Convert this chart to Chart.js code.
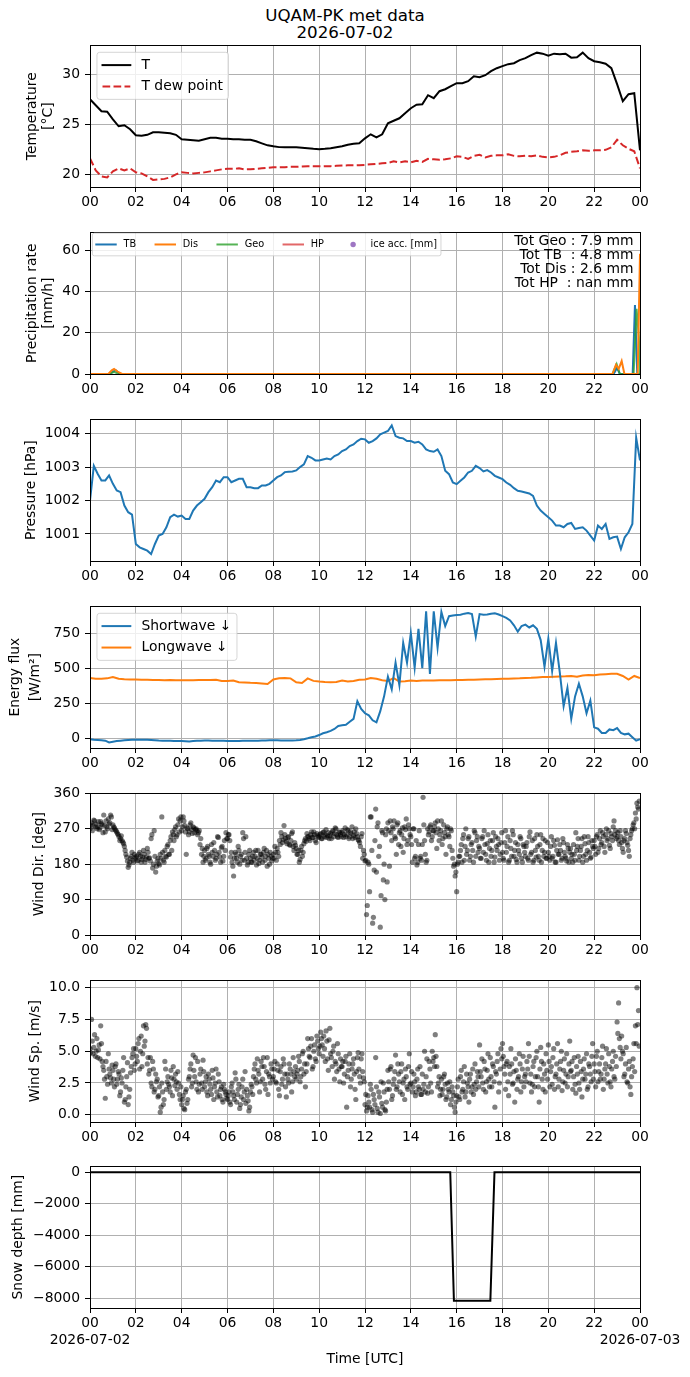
<!DOCTYPE html>
<html>
<head>
<meta charset="utf-8">
<script src="https://cdn.jsdelivr.net/npm/chart.js@4.4.1/dist/chart.umd.min.js"></script>
<style>
  body { margin: 0; background: #fff; width: 690px; height: 1377px; position: relative; overflow: hidden; font-family: "DejaVu Sans", sans-serif; }
  #title { position: absolute; left: 0; top: 7px; width: 690px; text-align: center; font-size: 16.7px; line-height: 17px; color: #000; }
  canvas { position: absolute; left: 0; }
</style>
</head>
<body>
<div id="title">UQAM-PK met data<br>2026-07-02</div>
<script>
// ---- data ----
const hourTicks = [0, 2, 4, 6, 8, 10, 12, 14, 16, 18, 20, 22, 24];
const dateLabels = ['2026-07-02', '2026-07-03'];

// temperature, every 15 min
const tempStepH = 0.25;
const airTemp = [
  27.5, 26.9, 26.3, 26.25,   25.5, 24.8, 24.9, 24.5,    23.9, 23.85, 23.95, 24.2,  24.2, 24.15, 24.1, 23.95,
  23.5, 23.45, 23.4, 23.35,  23.5, 23.65, 23.65, 23.55, 23.55, 23.5, 23.5, 23.45,  23.45, 23.3, 23.1, 22.9,
  22.8, 22.72, 22.7, 22.72,  22.7, 22.65, 22.6, 22.55,  22.52, 22.55, 22.6, 22.7,  22.8, 22.95, 23.05, 23.1,
  23.6, 24.0, 23.7, 24.0,    25.1, 25.35, 25.6, 26.1,   26.6, 26.95, 27.0, 27.9,   27.6, 28.3, 28.5, 28.8,
  29.1, 29.1, 29.3, 29.8,    29.7, 29.9, 30.3, 30.6,    30.8, 31.0, 31.1, 31.4,    31.6, 31.9, 32.15, 32.05,
  31.85, 32.05, 32.0, 32.05, 31.65, 31.7, 32.15, 31.6,  31.3, 31.2, 31.05, 30.6,   29.0, 27.3, 28.0, 28.1,
  22.4
];
const dewPoint = [
  21.6, 20.4, 19.8, 19.7,    20.3, 20.6, 20.4, 20.6,    20.2, 20.1, 19.8, 19.45,   19.5, 19.55, 19.7, 20.0,
  20.2, 20.15, 20.1, 20.15,  20.2, 20.3, 20.4, 20.5,    20.55, 20.55, 20.6, 20.5,  20.5, 20.55, 20.6, 20.65,
  20.7, 20.7, 20.72, 20.75,  20.75, 20.78, 20.8, 20.8,  20.8, 20.82, 20.82, 20.85, 20.88, 20.9, 20.9, 20.92,
  20.95, 21.0, 21.05, 21.1,  21.15, 21.3, 21.2, 21.3,   21.2, 21.35, 21.25, 21.55, 21.5, 21.45, 21.5, 21.6,
  21.8, 21.75, 21.55, 21.85, 21.95, 21.7, 21.85, 21.9,  21.9, 22.0, 21.85, 21.8,   21.85, 21.8, 21.9, 21.75,
  21.7, 21.75, 21.9, 22.15,  22.25, 22.3, 22.4, 22.35,  22.4, 22.4, 22.45, 22.7,   23.45, 22.9, 22.55, 22.3,
  20.6
];

// precipitation rate [mm/h]
const tbHours  = [0, 0.85, 1.0, 1.12, 1.3, 22.85, 23.0, 23.12, 23.68, 23.78, 23.88, 24];
const tbRate   = [0, 0, 1.2, 1.8, 0, 0, 3.0, 0, 0, 33.5, 0, 0];
const disHours = [0, 0.8, 0.95, 1.05, 1.2, 1.4, 22.8, 22.95, 23.07, 23.2, 23.32, 23.9, 24];
const disRate  = [0, 0, 1.8, 2.5, 1.2, 0, 0, 4.4, 2.5, 6.3, 0, 0, 58.5];
const geoHours = [0, 0.85, 1.05, 1.25, 22.8, 22.98, 23.12, 23.72, 23.85, 23.95, 24];
const geoRate  = [0, 0, 1.0, 0, 0, 4.8, 0, 0, 31.7, 18, 0];
const precipNote = ['Tot Geo : 7.9 mm', 'Tot TB  : 4.8 mm', 'Tot Dis : 2.6 mm', 'Tot HP  : nan mm'];

// pressure, every 10 min
const pressStepH = 1 / 6;
const pressure = [
  1002.0, 1003.04, 1002.8, 1002.6, 1002.6, 1002.75,
  1002.5, 1002.3, 1002.25, 1001.85, 1001.65, 1001.58,
  1000.7, 1000.6, 1000.55, 1000.5, 1000.4, 1000.7,
  1000.95, 1001.0, 1001.2, 1001.5, 1001.58, 1001.52,
  1001.55, 1001.45, 1001.45, 1001.7, 1001.85, 1001.95,
  1002.05, 1002.25, 1002.4, 1002.6, 1002.55, 1002.7,
  1002.7, 1002.55, 1002.6, 1002.65, 1002.65, 1002.4,
  1002.4, 1002.37, 1002.37, 1002.45, 1002.45, 1002.5,
  1002.6, 1002.7, 1002.75, 1002.85, 1002.86, 1002.87,
  1002.9, 1003.0, 1003.08, 1003.33, 1003.28, 1003.2,
  1003.2, 1003.23, 1003.26, 1003.23, 1003.33, 1003.38,
  1003.48, 1003.53, 1003.63, 1003.68, 1003.78, 1003.85,
  1003.83, 1003.73, 1003.78, 1003.86, 1003.98, 1004.03,
  1004.08, 1004.25, 1003.93, 1003.88, 1003.86, 1003.78,
  1003.78, 1003.73, 1003.76, 1003.68, 1003.53, 1003.48,
  1003.46, 1003.53, 1003.33, 1002.89, 1002.79, 1002.54,
  1002.49, 1002.59, 1002.69, 1002.84, 1002.89, 1003.04,
  1002.97, 1002.87, 1002.91, 1002.84, 1002.74, 1002.69,
  1002.64, 1002.54, 1002.47, 1002.37, 1002.29, 1002.27,
  1002.24, 1002.21, 1002.14, 1001.85, 1001.7, 1001.6,
  1001.5, 1001.4, 1001.25, 1001.25, 1001.2, 1001.3,
  1001.33, 1001.15, 1001.18, 1001.2, 1001.1, 1000.95,
  1000.8, 1001.25, 1001.15, 1001.3, 1000.85, 1000.9,
  1000.92, 1000.55, 1000.9, 1001.05, 1001.3, 1003.88,
  1003.2
];

// radiation [W/m2]
const swStepH = 1 / 6;
const shortwave = [
  -5, -8, -10, -12, -15, -28,       -22, -18, -15, -12, -10, -9,
  -8, -8, -8, -9, -10, -12,         -14, -15, -15, -16, -17, -18,
  -18, -19, -20, -18, -16, -15,     -14, -14, -15, -15, -16, -16,
  -17, -17, -17, -17, -16, -16,     -16, -15, -15, -14, -13, -12,
  -12, -12, -13, -13, -13, -13,     -12, -10, -5, 2, 10, 15,
  25, 38, 45, 55, 68, 90,           95, 98, 120, 140, 265, 210,
  180, 165, 130, 115, 195, 300,     440, 350, 540, 380, 680, 540,
  750, 505, 780, 500, 905, 460,     905, 645, 900, 800, 870, 875,
  878, 880, 888, 892, 885, 725,     885, 880, 882, 888, 890, 882,
  870, 858, 840, 805, 760, 800,     810, 790, 805, 780, 700, 510,
  710, 480, 680, 470, 230, 360,     140, 300, 390, 300, 180, 270,
  80, 70, 40, 40, 65, 60,           75, 40, 30, 35, 10, -15,
  -5
];
const lwStepH = 0.25;
const longwave = [
  430, 425, 425, 428,  438, 425, 422, 420,  420, 418, 418, 416,  416, 415, 416, 415,
  415, 415, 415, 416,  417, 417, 418, 410,  410, 412, 400, 398,  396, 395, 392, 388,
  420, 428, 430, 428,  400, 395, 428, 410,  405, 402, 400, 402,  412, 405, 410, 418,
  420, 430, 425, 415,  410, 430, 405, 408,  412, 410, 412, 413,  413, 414, 415, 415,
  416, 416, 418, 418,  420, 421, 422, 424,  425, 426, 427, 428,  430, 432, 435, 437,
  438, 440, 442, 443,  445, 440, 448, 452,  450, 455, 458, 460,  460, 445, 420, 445,
  430
];

// wind, every 4 min, plus a second set 2 min later
const windStepH = 1 / 15;
const windOffsetH = 2 / 60;
const windDir = [
  270, 285, 278, 290, 282, 275, 268, 288, 280, 305, 262, 275, 295, 285, 300,
  280, 272, 265, 258, 250, 245, 240, 232, 215, 198, 172, 185, 200, 190, 205,
  195, 188, 205, 200, 192, 215, 185, 198, 210, 196, 245, 170, 265, 160, 188,
  182, 205, 300, 190, 215, 198, 230, 205, 250, 262, 240, 275, 255, 295, 290,
  265, 300, 278, 205, 270, 262, 285, 258, 272, 268, 265, 260, 230, 205, 185,
  215, 195, 225, 200, 180, 210, 235, 190, 205, 248, 198, 222, 188, 240, 260,
  245, 255, 198, 185, 150, 210, 195, 225, 180, 205, 260, 190, 250, 178, 205,
  195, 185, 210, 200, 178, 215, 190, 205, 185, 220, 200, 175, 195, 210, 188,
  205, 225, 190, 210, 240, 260, 235, 278, 245, 232, 250, 228, 258, 225, 235,
  220, 205, 185, 215, 200, 232, 245, 258, 250, 240, 262, 248, 255, 235, 252,
  250, 258, 245, 262, 255, 248, 260, 252, 245, 265, 258, 270, 250, 262, 255,
  260, 248, 272, 255, 265, 250, 258, 245, 262, 270, 250, 240, 225, 258, 215,
  188, 52, 185, 110, 300, 30, 165, 320, 275, 200, 20, 265, 140, 90, 270,
  285, 175, 260, 275, 290, 245, 280, 230, 265, 255, 210, 275, 295, 240, 270,
  250, 185, 270, 200, 178, 230, 195, 190, 350, 240, 185, 270, 262, 280, 250,
  265, 285, 220, 270, 255, 290, 245, 260, 205, 275, 250, 270, 215, 175, 150,
  110, 185, 200, 230, 245, 190, 270, 215, 250, 200, 235, 185, 260, 240, 210,
  220, 195, 250, 265, 205, 232, 185, 240, 215, 260, 198, 225, 245, 190, 235,
  210, 190, 265, 225, 185, 240, 200, 255, 215, 192, 230, 205, 245, 185, 225,
  200, 235, 190, 262, 210, 185, 245, 198, 225, 190, 255, 215, 200, 240, 195,
  210, 190, 250, 200, 228, 185, 242, 205, 215, 195, 235, 200, 188, 220, 210,
  195, 185, 205, 260, 225, 190, 215, 245, 200, 232, 190, 250, 210, 198, 225,
  240, 205, 255, 220, 265, 235, 250, 210, 270, 245, 228, 258, 240, 290, 265,
  250, 240, 265, 235, 210, 245, 258, 228, 200, 255, 270, 285, 310, 335, 320
];
const windDir2 = [
  280, 265, 292, 275, 270, 288, 272, 283, 260, 278, 290, 270, 282, 305, 268,
  275, 268, 262, 255, 240, 252, 236, 225, 205, 188, 178, 195, 210, 185, 198,
  200, 190, 210, 185, 198, 205, 192, 220, 195, 188, 255, 180, 200, 175, 195,
  178, 195, 210, 185, 200, 225, 205, 240, 215, 255, 268, 250, 280, 262, 300,
  275, 290, 262, 272, 255, 280, 268, 275, 260, 270, 255, 265, 245, 220, 200,
  190, 220, 205, 185, 230, 200, 215, 195, 250, 210, 185, 225, 200, 215, 245,
  255, 240, 210, 175, 195, 205, 185, 215, 200, 190, 245, 210, 195, 185, 215,
  185, 200, 190, 215, 195, 182, 205, 198, 210, 190, 215, 205, 180, 200, 195,
  195, 210, 220, 200, 230, 250, 242, 255, 238, 248, 230, 240, 262, 215, 228,
  205, 215, 192, 225, 210, 240, 238, 250, 245, 255, 248, 262, 240, 258, 248,
  255, 245, 260, 250, 268, 252, 245, 258, 262, 250, 272, 255, 248, 260, 250,
  265, 255, 250, 268, 245, 262, 275, 252, 248, 258, 242, 235, 250, 195, 205,
  190, 75, 180, 300, 215, 45, 240, 160, 285, 225, 100, 260, 180, 255, 135,
  265, 290, 240, 270, 250, 205, 285, 260, 225, 272, 245, 268, 230, 280, 255,
  230, 270, 195, 240, 185, 265, 200, 230, 280, 205, 190, 255, 275, 240, 265,
  275, 260, 290, 240, 265, 230, 280, 250, 270, 255, 225, 265, 195, 180, 160,
  180, 200, 215, 185, 255, 225, 205, 245, 190, 230, 215, 265, 200, 250, 225,
  195, 245, 210, 230, 190, 255, 220, 200, 240, 185, 250, 215, 230, 205, 260,
  195, 235, 210, 250, 190, 220, 265, 200, 235, 185, 215, 250, 195, 230, 210,
  225, 195, 250, 205, 240, 190, 215, 255, 200, 230, 185, 245, 210, 195, 235,
  200, 225, 195, 240, 185, 215, 205, 230, 190, 245, 210, 195, 230, 185, 220,
  205, 230, 190, 215, 245, 200, 225, 185, 250, 205, 215, 235, 195, 240, 220,
  225, 250, 210, 245, 230, 260, 225, 255, 240, 265, 220, 250, 275, 255, 245,
  260, 230, 250, 220, 240, 265, 235, 215, 245, 265, 280, 270, 295, 325, 340
];
const windSpeed = [
  5.2, 7.5, 4.8, 6.3, 5.0, 4.5, 5.5, 7.0, 4.2, 3.5, 1.3, 3.0, 4.8, 3.2, 2.5,
  3.5, 2.2, 4.0, 2.8, 3.2, 1.8, 2.5, 4.5, 1.2, 3.0, 0.8, 2.0, 3.8, 4.8, 3.5,
  5.2, 4.2, 6.0, 5.0, 3.8, 7.0, 5.8, 6.8, 4.5, 3.5, 2.5, 4.2, 1.8, 3.2, 2.8,
  1.5, 0.2, 2.5, 0.8, 4.2, 2.0, 3.0, 2.2, 3.5, 1.5, 2.8, 3.2, 2.0, 2.5, 1.2,
  0.8, 1.5, 0.4, 2.0, 1.2, 3.0, 4.0, 2.5, 3.5, 4.5, 2.0, 1.8, 3.2, 2.5, 4.3,
  2.2, 3.0, 1.5, 2.8, 2.0, 3.5, 1.2, 2.5, 1.8, 3.2, 1.5, 2.2, 1.0, 2.0, 1.6,
  1.2, 1.8, 0.8, 2.5, 1.5, 3.3, 1.0, 2.0, 0.5, 1.4, 2.8, 1.8, 0.9, 1.5, 0.3,
  1.8, 2.2, 3.0, 4.0, 2.5, 3.5, 1.8, 4.2, 2.8, 3.8, 2.0, 4.5, 3.2, 2.5, 3.6,
  3.0, 4.2, 2.5, 3.5, 1.5, 3.8, 2.8, 4.0, 2.2, 3.2, 2.5, 3.6, 1.8, 4.5, 3.0,
  2.8, 3.5, 4.2, 3.0, 4.8, 3.2, 2.2, 4.0, 5.2, 4.5, 6.0, 3.8, 5.5, 4.2, 5.8,
  4.8, 6.5, 5.5, 6.2, 4.2, 5.8, 3.5, 6.8, 4.5, 5.0, 2.8, 4.0, 5.6, 3.6, 4.4,
  3.8, 2.5, 4.2, 0.6, 3.5, 4.8, 2.8, 4.0, 3.2, 1.2, 4.5, 3.6, 2.5, 4.8, 2.9,
  0.8, 0.3, 1.5, 0.6, 2.0, 0.2, 1.2, 4.5, 0.5, 1.8, 0.1, 0.9, 2.5, 0.4, 1.0,
  3.5, 2.0, 3.8, 1.5, 2.8, 4.7, 2.2, 3.2, 1.8, 4.0, 2.5, 1.2, 3.0, 2.0, 4.8,
  2.5, 1.8, 3.2, 1.5, 2.8, 2.2, 3.8, 1.6, 2.0, 5.0, 3.0, 1.7, 4.2, 2.5, 5.0,
  4.5, 6.3, 3.8, 2.5, 1.5, 2.8, 2.0, 3.2, 1.2, 2.5, 1.8, 0.8, 2.2, 1.5, 0.2,
  1.5, 2.8, 1.2, 3.5, 2.0, 3.8, 1.8, 2.5, 1.0, 3.2, 2.2, 1.6, 4.0, 2.6, 3.0,
  5.5, 3.0, 2.5, 4.2, 1.8, 3.5, 2.8, 4.5, 2.2, 3.8, 0.6, 3.2, 4.8, 2.5, 5.2,
  5.6, 3.8, 2.0, 4.2, 1.5, 3.2, 4.0, 2.5, 1.0, 3.5, 2.8, 4.8, 1.8, 3.6, 2.2,
  3.2, 4.2, 5.6, 2.5, 1.8, 3.8, 2.2, 4.5, 3.0, 1.0, 5.3, 2.8, 4.0, 1.8, 3.5,
  5.5, 2.2, 3.8, 4.5, 2.0, 3.2, 5.6, 2.8, 4.2, 1.9, 3.5, 2.5, 4.8, 3.0, 5.8,
  3.5, 2.0, 4.5, 1.7, 3.2, 2.5, 4.2, 1.4, 3.6, 2.8, 4.8, 2.2, 3.8, 2.6, 5.6,
  4.0, 2.2, 5.0, 3.4, 2.8, 4.5, 2.0, 3.6, 5.2, 2.5, 3.8, 2.2, 4.2, 3.0, 4.6,
  7.3, 8.8, 5.3, 6.2, 4.8, 3.2, 5.3, 2.5, 4.2, 1.6, 3.8, 5.6, 7.0, 10.0, 8.2
];
const windSpeed2 = [
  4.9, 5.8, 5.3, 4.6, 6.0, 5.1, 4.4, 5.6, 3.8, 2.8, 4.2, 2.4, 3.6, 2.9, 3.9,
  2.8, 3.8, 2.4, 3.4, 1.5, 2.9, 3.5, 1.0, 2.2, 4.1, 1.4, 3.3, 4.5, 5.2, 4.0,
  4.6, 5.6, 3.6, 6.2, 4.8, 5.4, 7.1, 4.0, 3.2, 4.5, 2.2, 3.6, 2.0, 2.6, 1.4,
  2.2, 0.6, 1.8, 1.2, 3.6, 2.6, 2.4, 1.8, 2.9, 3.8, 2.3, 2.6, 3.4, 1.6, 2.2,
  1.2, 0.5, 1.8, 0.9, 2.8, 3.6, 2.2, 4.7, 3.0, 2.6, 4.2, 2.4, 3.6, 2.0, 3.4,
  2.6, 1.8, 3.2, 2.4, 1.6, 2.9, 2.2, 3.6, 1.4, 2.6, 2.0, 1.2, 2.4, 1.8, 1.3,
  1.5, 1.0, 2.2, 1.8, 1.2, 2.8, 1.6, 2.4, 0.8, 2.2, 1.2, 3.4, 2.0, 1.1, 0.6,
  2.4, 1.6, 3.6, 2.8, 4.4, 3.2, 2.6, 3.8, 4.5, 2.4, 3.4, 1.6, 3.0, 4.0, 2.8,
  3.6, 2.6, 4.0, 2.0, 3.4, 2.4, 4.4, 3.2, 1.4, 2.8, 4.0, 3.2, 2.6, 3.4, 3.8,
  3.2, 4.6, 2.6, 3.6, 5.0, 4.0, 3.4, 6.0, 4.6, 5.4, 3.6, 5.0, 4.4, 6.2, 5.2,
  5.4, 6.0, 4.6, 5.2, 6.6, 4.4, 5.9, 4.8, 3.8, 5.4, 4.2, 3.4, 4.8, 2.6, 3.8,
  4.2, 3.2, 4.6, 3.0, 4.0, 2.2, 3.6, 4.4, 2.0, 3.4, 4.9, 3.0, 4.4, 3.4, 2.6,
  1.6, 0.6, 1.0, 2.4, 0.4, 1.6, 0.8, 2.2, 0.2, 1.4, 2.6, 0.6, 1.8, 0.3, 2.0,
  2.6, 3.6, 1.2, 2.4, 3.4, 2.0, 4.0, 2.6, 3.4, 1.6, 2.8, 3.6, 2.2, 3.8, 2.4,
  3.4, 2.2, 2.6, 1.8, 3.6, 2.0, 1.6, 3.2, 2.4, 1.8, 4.4, 2.2, 3.6, 1.8, 4.2,
  3.8, 4.6, 2.2, 3.0, 2.0, 1.6, 3.0, 2.4, 1.4, 2.0, 2.6, 1.2, 1.8, 0.6, 1.0,
  2.2, 1.4, 3.0, 1.8, 2.6, 1.4, 3.2, 2.2, 2.8, 1.8, 3.6, 2.4, 2.0, 3.4, 2.2,
  3.4, 4.4, 2.0, 3.6, 2.6, 4.8, 2.2, 3.0, 4.0, 2.6, 3.4, 4.2, 1.8, 3.6, 4.4,
  4.6, 3.2, 4.0, 2.6, 3.8, 5.2, 2.4, 3.4, 4.4, 2.0, 3.0, 4.0, 2.6, 4.6, 3.0,
  2.6, 3.6, 4.6, 3.2, 2.4, 4.2, 3.0, 5.0, 2.2, 3.6, 4.2, 2.0, 3.2, 4.8, 2.8,
  4.2, 3.4, 2.4, 5.2, 3.0, 4.0, 2.2, 3.6, 5.0, 2.6, 4.4, 3.2, 2.2, 4.0, 3.4,
  4.2, 3.0, 2.4, 3.8, 4.6, 2.0, 3.4, 2.8, 4.4, 3.2, 2.0, 4.0, 3.2, 4.6, 2.8,
  3.4, 4.6, 2.6, 4.0, 3.2, 5.4, 2.8, 4.0, 3.2, 4.8, 2.6, 3.6, 5.0, 2.8, 3.8,
  6.4, 6.0, 4.4, 5.0, 3.0, 4.0, 2.6, 3.6, 2.2, 3.0, 4.4, 3.4, 5.6, 7.1, 5.4
];

// snow depth [mm]
const snowHours = [0, 15.72, 15.88, 17.47, 17.65, 24];
const snowDepth = [0, 0, -8170, -8170, 0, 0];

// y ticks
const tempTicks = [20, 25, 30];
const precipTicks = [0, 20, 40, 60];
const pressTicks = [1001, 1002, 1003, 1004];
const fluxTicks = [0, 250, 500, 750];
const dirTicks = [0, 90, 180, 270, 360];
const speedTicks = [0, 2.5, 5, 7.5, 10];
const snowTicks = [-8000, -6000, -4000, -2000, 0];

// ---- helpers ----
const onGrid = (vals, step, start = 0) => vals.map((v, i) => ({ x: start + i * step, y: v }));
const onHours = (hrs, vals) => hrs.map((h, i) => ({ x: h, y: vals[i] }));

Chart.defaults.font.family = '"DejaVu Sans", sans-serif';
Chart.defaults.font.size = 13.9;
Chart.defaults.color = '#000';

// black frame around the axes
const framePlugin = {
  id: 'frame',
  afterDraw(chart) {
    const { ctx, chartArea: a } = chart;
    ctx.save();
    ctx.strokeStyle = '#000';
    ctx.lineWidth = 1;
    ctx.strokeRect(Math.round(a.left) + 0.5, Math.round(a.top) + 0.5,
                   Math.round(a.right - a.left), Math.round(a.bottom - a.top));
    ctx.restore();
  }
};

// matplotlib-like legend box inside the axes
const boxLegend = {
  id: 'boxLegend',
  afterDraw(chart, args, o) {
    if (!o || !o.show) return;
    const { ctx, chartArea: a } = chart;
    const fs = o.fontSize, ncol = o.ncol || 1;
    const items = chart.data.datasets.filter(d => d.label);
    const nrow = Math.ceil(items.length / ncol);
    const hl = 2 * fs, tp = 0.8 * fs, cs = 2 * fs, bp = 0.4 * fs, ls = 0.5 * fs, rh = o.rowH;
    ctx.save();
    ctx.font = fs + 'px "DejaVu Sans"';
    const colW = [];
    items.forEach((d, i) => {
      const c = Math.floor(i / nrow);
      colW[c] = Math.max(colW[c] || 0, hl + tp + ctx.measureText(d.label).width);
    });
    const w = 2 * bp + colW.reduce((s, v) => s + v, 0) + cs * (colW.length - 1);
    const h = 2 * bp + nrow * rh + (nrow - 1) * ls;
    const x0 = a.left + o.padX, y0 = a.top + o.padY;
    ctx.beginPath();
    if (ctx.roundRect) ctx.roundRect(x0, y0, w, h, 0.2 * fs); else ctx.rect(x0, y0, w, h);
    ctx.fillStyle = 'rgba(255,255,255,0.8)';
    ctx.fill();
    ctx.strokeStyle = 'rgba(204,204,204,0.8)';
    ctx.lineWidth = 1;
    ctx.stroke();
    items.forEach((d, i) => {
      const c = Math.floor(i / nrow), r = i % nrow;
      let hx = x0 + bp;
      for (let k = 0; k < c; k++) hx += colW[k] + cs;
      const cy = y0 + bp + r * (rh + ls) + rh / 2;
      if (d.legendKind === 'dot') {
        ctx.beginPath();
        ctx.arc(hx + hl / 2, cy, o.dotR || 2.5, 0, 2 * Math.PI);
        ctx.fillStyle = d.backgroundColor;
        ctx.fill();
      } else {
        ctx.beginPath();
        ctx.setLineDash(d.borderDash || []);
        ctx.lineCap = d.borderDash ? 'butt' : 'square';
        ctx.strokeStyle = d.borderColor;
        ctx.lineWidth = d.borderWidth;
        ctx.moveTo(hx, cy);
        ctx.lineTo(hx + hl, cy);
        ctx.stroke();
        ctx.setLineDash([]);
      }
      ctx.fillStyle = '#000';
      ctx.textBaseline = 'middle';
      ctx.textAlign = 'left';
      ctx.fillText(d.label, hx + hl + tp, cy);
    });
    ctx.restore();
  }
};

// right-aligned note in the top right corner
const cornerText = {
  id: 'cornerText',
  afterDraw(chart, args, o) {
    if (!o || !o.lines) return;
    const { ctx, chartArea: a } = chart;
    ctx.save();
    ctx.font = '13.9px "DejaVu Sans"';
    ctx.fillStyle = '#000';
    ctx.textAlign = 'right';
    ctx.textBaseline = 'middle';
    o.lines.forEach((t, i) => ctx.fillText(t, a.right - o.padRight, a.top + o.firstY + i * o.step));
    ctx.restore();
  }
};

const PAD_TOP = 12, PLOT_H = 143;
const gridOpts = { color: '#b0b0b0', lineWidth: 1, tickColor: '#000', tickLength: 5, tickWidth: 1 };

function panel(p) {
  const last = !!p.last;
  const axisH = last ? 60 : 30;
  const padBottom = last ? 6 : 0;
  const h = PAD_TOP + PLOT_H + axisH + padBottom;
  const canvas = document.createElement('canvas');
  canvas.width = 690;
  canvas.height = h;
  canvas.style.width = '690px';
  canvas.style.height = h + 'px';
  canvas.style.top = (p.top - PAD_TOP) + 'px';
  document.body.appendChild(canvas);
  const lh = p.titleLineH || 16.7;
  const padLeft = p.titleX - lh / 2;

  new Chart(canvas, {
    type: 'line',
    data: { datasets: p.datasets },
    plugins: [framePlugin, boxLegend, cornerText],
    options: {
      responsive: false,
      animation: false,
      events: [],
      elements: { point: { radius: 0 }, line: { tension: 0 } },
      layout: { padding: { left: padLeft, right: 50, top: PAD_TOP, bottom: padBottom } },
      plugins: {
        legend: { display: false },
        tooltip: { enabled: false },
        boxLegend: p.legend || {},
        cornerText: p.note || {}
      },
      scales: {
        x: {
          type: 'linear', min: 0, max: 24,
          afterBuildTicks: s => { s.ticks = hourTicks.map(v => ({ value: v })); },
          afterFit: s => { s.height = axisH; },
          ticks: {
            autoSkip: false, maxRotation: 0, padding: 2,
            callback: (v, i) => {
              const lbl = String(v % 24).padStart(2, '0');
              if (last && i === 0) return [lbl, dateLabels[0]];
              if (last && i === hourTicks.length - 1) return [lbl, dateLabels[1]];
              return lbl;
            }
          },
          grid: gridOpts,
          border: { display: false },
          title: last ? { display: true, text: 'Time [UTC]', padding: 0 } : { display: false }
        },
        y: {
          type: 'linear', min: p.yMin, max: p.yMax,
          afterBuildTicks: s => { s.ticks = p.yTicks.map(v => ({ value: v })); },
          afterFit: s => { s.width = 90 - padLeft; },
          ticks: { padding: 5, callback: p.yFmt || (v => String(v)) },
          grid: gridOpts,
          border: { display: false },
          title: { display: true, text: p.yTitle, padding: 0, font: { lineHeight: lh / 13.9 } }
        }
      }
    }
  });
}

const C0 = '#1f77b4', C1 = '#ff7f0e';
const dotStyle = { showLine: false, pointRadius: 2.6, pointBorderWidth: 0, backgroundColor: 'rgba(0,0,0,0.5)' };

panel({
  top: 44, yMin: 18.74, yMax: 32.88, yTicks: tempTicks,
  yTitle: ['Temperature', '[°C]'], titleX: 32,
  legend: { show: true, fontSize: 13.9, ncol: 1, rowH: 14.5, padX: 6.95, padY: 6.95 },
  datasets: [
    { label: 'T', data: onGrid(airTemp, tempStepH), borderColor: '#000', borderWidth: 2 },
    { label: 'T dew point', data: onGrid(dewPoint, tempStepH), borderColor: '#d62728', borderWidth: 2, borderDash: [7.7, 3.3] }
  ]
});

panel({
  top: 231, yMin: 0, yMax: 68.9, yTicks: precipTicks,
  yTitle: ['Precipitation rate', '[mm/h]'], titleX: 32,
  legend: { show: true, fontSize: 9.72, ncol: 5, rowH: 14.9, padX: 2.4, padY: 0.8, dotR: 2.7 },
  note: { lines: precipNote, padRight: 6.5, firstY: 9, step: 14 },
  datasets: [
    { label: 'TB', data: onHours(tbHours, tbRate), borderColor: C0, borderWidth: 2, order: 3 },
    { label: 'Dis', data: onHours(disHours, disRate), borderColor: C1, borderWidth: 2, order: 1 },
    { label: 'Geo', data: onHours(geoHours, geoRate), borderColor: 'rgba(44,160,44,0.8)', borderWidth: 2, order: 2 },
    { label: 'HP', data: [], borderColor: 'rgba(214,39,40,0.7)', borderWidth: 2, order: 4 },
    { label: 'ice acc. [mm]', data: [], showLine: false, backgroundColor: 'rgba(148,103,189,0.9)', legendKind: 'dot', order: 5 }
  ]
});

panel({
  top: 418, yMin: 1000.19, yMax: 1004.43, yTicks: pressTicks,
  yTitle: 'Pressure [hPa]', titleX: 31,
  datasets: [
    { data: onGrid(pressure, pressStepH), borderColor: C0, borderWidth: 2 }
  ]
});

panel({
  top: 605, yMin: -67, yMax: 940, yTicks: fluxTicks,
  yTitle: ['Energy flux', '[W/m²]'], titleX: 15.5, titleLineH: 19.5,
  legend: { show: true, fontSize: 13.9, ncol: 1, rowH: 14.5, padX: 6.95, padY: 6.95 },
  datasets: [
    { label: 'Shortwave ↓', data: onGrid(shortwave, swStepH), borderColor: C0, borderWidth: 2 },
    { label: 'Longwave ↓', data: onGrid(longwave, lwStepH), borderColor: C1, borderWidth: 2 }
  ]
});

panel({
  top: 792, yMin: 0, yMax: 360, yTicks: dirTicks,
  yTitle: 'Wind Dir. [deg]', titleX: 39.5,
  datasets: [
    { data: onGrid(windDir, windStepH).concat(onGrid(windDir2, windStepH, windOffsetH)), ...dotStyle }
  ]
});

panel({
  top: 979, yMin: -0.57, yMax: 10.58, yTicks: speedTicks,
  yTitle: 'Wind Sp. [m/s]', titleX: 35, yFmt: v => v.toFixed(1),
  datasets: [
    { data: onGrid(windSpeed, windStepH).concat(onGrid(windSpeed2, windStepH, windOffsetH)), ...dotStyle }
  ]
});

panel({
  top: 1165, yMin: -8628, yMax: 377, yTicks: snowTicks, last: true,
  yTitle: 'Snow depth [mm]', titleX: 18, yFmt: v => (v < 0 ? '\u2212' + Math.abs(v) : String(v)),
  datasets: [
    { data: onHours(snowHours, snowDepth), borderColor: '#000', borderWidth: 2 }
  ]
});
</script>
</body>
</html>
